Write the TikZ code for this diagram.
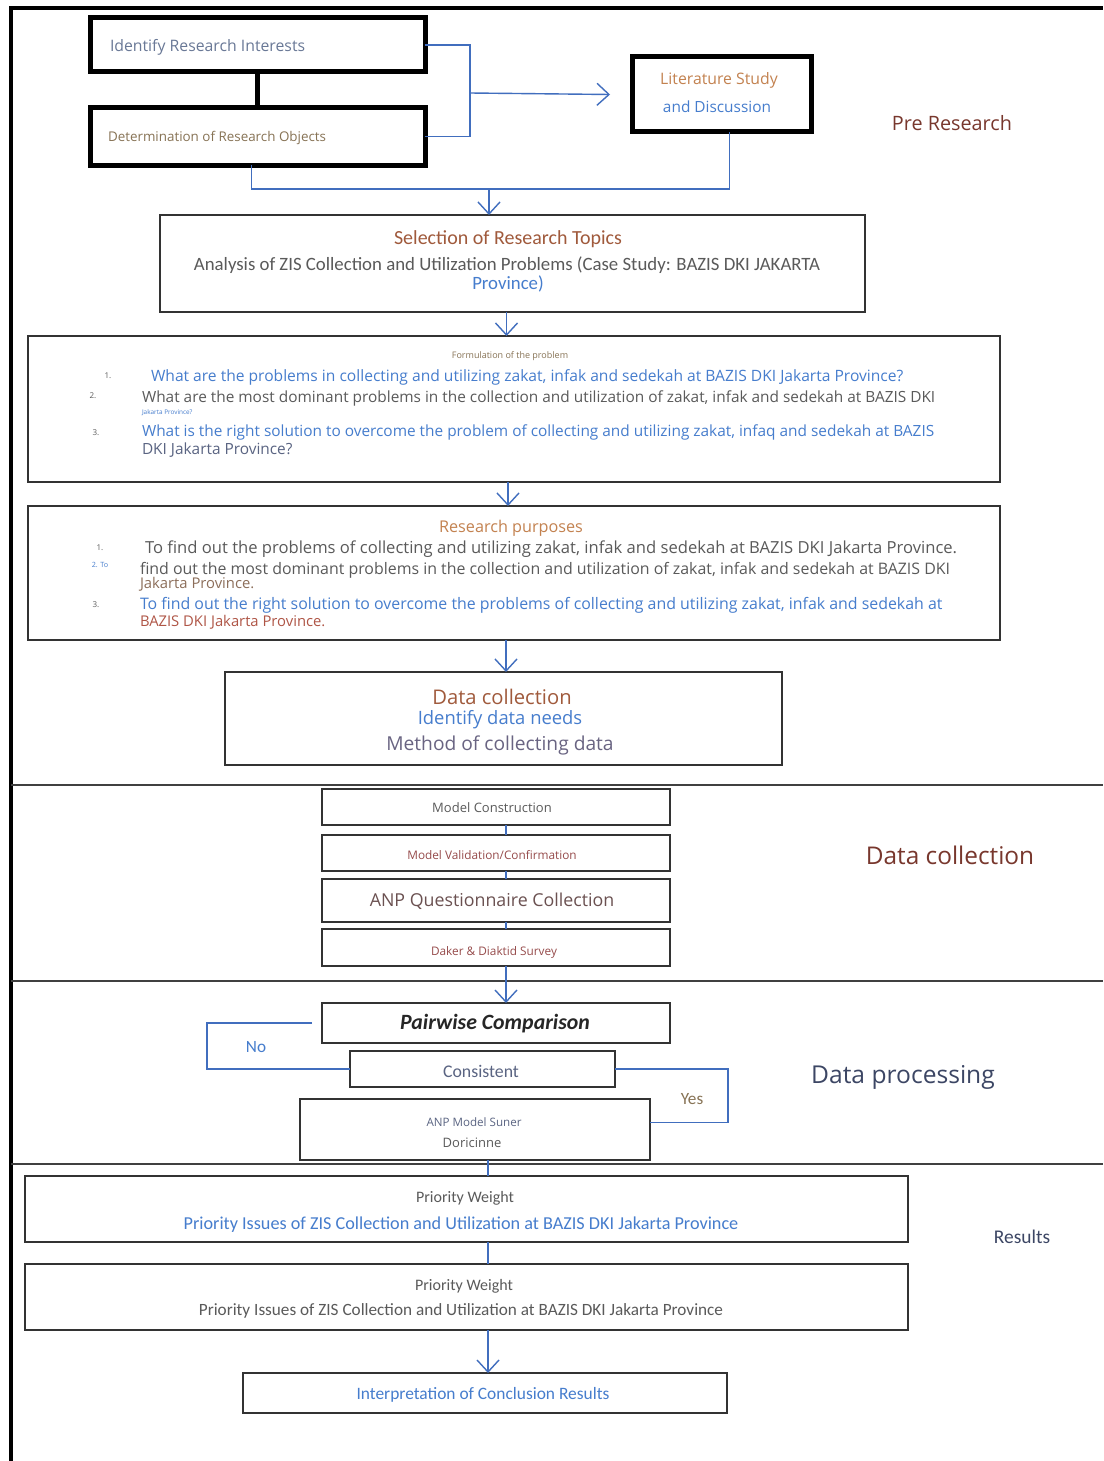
\documentclass[tikz,border=0pt]{standalone}
\usepackage{fontspec}
\setmainfont{Open Sans}
\newfontfamily\carl{Carlito}
\usetikzlibrary{arrows.meta,fit}
\definecolor{ctop}{RGB}{105,120,150}
\definecolor{colive}{RGB}{135,115,85}
\definecolor{corange}{RGB}{195,130,80}
\definecolor{cblue}{RGB}{70,125,205}
\definecolor{cbrown}{RGB}{160,90,60}
\definecolor{cdark}{RGB}{120,55,45}
\definecolor{cgray}{RGB}{90,90,90}
\definecolor{cgb}{RGB}{90,100,130}
\definecolor{cpurple}{RGB}{105,100,130}
\definecolor{cred}{RGB}{175,85,70}
\definecolor{cline}{RGB}{65,110,190}
\definecolor{cnavy}{RGB}{60,70,100}
\definecolor{cbr2}{RGB}{140,110,90}
\definecolor{cmr}{RGB}{150,75,75}
\newcommand\fsz[1]{\fontsize{#1}{#1}\selectfont}
\begin{document}
\begin{tikzpicture}[x=0.5pt,y=-0.5pt,
  fitbox/.style={inner sep=0pt,outer sep=0pt},
  thickbox/.style={fitbox,draw=black,line width=2.5pt},
  thinbox/.style={fitbox,draw=black!80,line width=0.8pt},
  txt/.style={inner sep=0pt,outer sep=0pt},
  conn/.style={draw=cline,line width=0.7pt},
  arr/.style={conn,-{Straight Barb[length=6pt,width=11pt,line width=0.7pt]}},
  sep/.style={draw=black!75,line width=1pt}]
\fill[white] (0,0) rectangle (1103,1461);
\useasboundingbox (0,0) rectangle (1103,1461);
% frame
\draw[line width=1.8pt] (11,1461) -- (11,8) -- (1103,8);
\draw[sep] (11,785) -- (1103,785);
\draw[sep] (11,981) -- (1103,981);
\draw[sep] (11,1164) -- (1103,1164);

% pre research
\node[thickbox,fit={(90,18)(425,72)}] (ri) {};
\node[thickbox,fit={(90,108)(425,165)}] (ro) {};
\node[thickbox,fit={(632,57)(811,132)}] (lit) {};
\node[txt,anchor=west,text=ctop,font=\fsz{7.9}] at (110,47) {Identify Research Interests};
\node[txt,anchor=west,text=colive,font=\fsz{6.7}] at (108,138) {Determination of Research Objects};
\node[txt,text=corange,font=\fsz{7.9}] at (719,80) {Literature Study};
\node[txt,text=cblue,font=\fsz{7.7}] at (717,107) {and Discussion};
\node[txt,text=cdark,font=\fsz{9.9}] (lpre) at (952,123) {Pre Research};
\draw[line width=2.5pt] (ri) -- (ro);
\draw[conn] (ri.east) -- ++(45,0) coordinate (bt) |- (ro.east);
\coordinate (jn) at (470,93);
\draw[arr] (jn) -- ([xshift=-11pt]lit.west);
\draw[conn] ([xshift=-3pt]ro.south) -- ++(0,24) -| ([xshift=4pt]lit.south);
\coordinate (jb) at (489,189);

\node[thinbox,fit={(160,215)(865,312)}] (sel) {};
\draw[arr] (jb) -- (jb |- sel.north);
\node[txt,text=cbrown,font=\carl\fsz{10}] at (508,239) {Selection of Research Topics};
\node[txt,text=cgray,font=\carl\fsz{9.4}] at (507,265) {Analysis of ZIS Collection and Utilization Problems (Case Study: BAZIS DKI JAKARTA};
\node[txt,text=cblue,font=\carl\fsz{9.4}] at (508,284) {Province)};

% problem
\node[thinbox,fit={(28,336)(1000,482)}] (prob) {};
\draw[arr] ([xshift=-3pt]sel.south) -- ([xshift=-3pt]sel.south |- prob.north);
\node[txt,text=colive,font=\fsz{4.5}] at (510,356) {Formulation of the problem};
\node[txt,text=cgray,font=\fsz{4}] at (108,376) {1.};
\node[txt,anchor=west,text=cblue,font=\fsz{7.8}] at (151,377) {What are the problems in collecting and utilizing zakat, infak and sedekah at BAZIS DKI Jakarta Province?};
\node[txt,text=cgray,font=\fsz{4}] at (93,396) {2.};
\node[txt,anchor=west,text=cgray,font=\fsz{7.7}] at (142,398) {What are the most dominant problems in the collection and utilization of zakat, infak and sedekah at BAZIS DKI};
\node[txt,anchor=west,text=cblue,font=\fsz{3.2}] at (142,413) {Jakarta Province?};
\node[txt,text=cgray,font=\fsz{4}] at (96,433) {3.};
\node[txt,anchor=west,text=cblue,font=\fsz{7.7}] at (142,432) {What is the right solution to overcome the problem of collecting and utilizing zakat, infaq and sedekah at BAZIS};
\node[txt,anchor=west,text=cgb,font=\fsz{7.7}] at (142,450) {DKI Jakarta Province?};

% purposes
\node[thinbox,fit={(28,506)(1000,640)}] (purp) {};
\draw[arr] ([xshift=-3pt]prob.south) -- ([xshift=-3pt]prob.south |- purp.north);
\node[txt,text=corange,font=\fsz{8.1}] at (511,528) {Research purposes};
\node[txt,text=cgray,font=\fsz{4}] at (100,548) {1.};
\node[txt,anchor=west,text=cgray,font=\fsz{8.3}] at (145,549) {To find out the problems of collecting and utilizing zakat, infak and sedekah at BAZIS DKI Jakarta Province.};
\node[txt,text=cblue,font=\fsz{3.6}] at (100,565) {2. To};
\node[txt,anchor=west,text=cgray,font=\fsz{7.95}] at (140,570) {find out the most dominant problems in the collection and utilization of zakat, infak and sedekah at BAZIS DKI};
\node[txt,anchor=west,text=cbr2,font=\fsz{7.4}] at (140,584) {Jakarta Province.};
\node[txt,text=cgray,font=\fsz{4}] at (96,605) {3.};
\node[txt,anchor=west,text=cblue,font=\fsz{7.95}] at (140,605) {To find out the right solution to overcome the problems of collecting and utilizing zakat, infak and sedekah at};
\node[txt,anchor=west,text=cred,font=\fsz{7.4}] at (140,622) {BAZIS DKI Jakarta Province.};

% data collection box
\node[thinbox,fit={(225,672)(782,765)}] (dc) {};
\draw[arr] ([xshift=-4pt]purp.south) -- ([xshift=-4pt]purp.south |- dc.north);
\node[txt,text=cbrown,font=\fsz{10.1}] at (502,697) {Data collection};
\node[txt,text=cblue,font=\fsz{9.2}] at (500,720) {Identify data needs};
\node[txt,text=cpurple,font=\fsz{9.6}] at (500,745) {Method of collecting data};

% data collection stage
\node[thinbox,fit={(322,789)(670,825)}] (m1) {};
\node[thinbox,fit={(322,835)(670,871)}] (m2) {};
\node[thinbox,fit={(322,879)(670,922)}] (m3) {};
\node[thinbox,fit={(322,929)(670,966)}] (m4) {};
\node[txt,text=cgray,font=\fsz{6.5}] at (492,808) {Model Construction};
\node[txt,text=cmr,font=\fsz{5.9}] at (492,855) {Model Validation/Confirmation};
\node[txt,text=cgray!90!red,font=\fsz{8.9}] at (492,901) {ANP Questionnaire Collection};
\node[txt,text=cmr,font=\fsz{5.9}] at (494,952) {Daker \& Diaktid Survey};
\node[txt,text=cdark,font=\fsz{12.2}] (ldc) at (950,855) {Data collection};
\coordinate (sx) at (506,0);
\draw[conn] (m1.south -| sx) -- (m2.north -| sx);
\draw[conn] (m2.south -| sx) -- (m3.north -| sx);
\draw[conn] (m3.south -| sx) -- (m4.north -| sx);

% data processing
\node[thinbox,fit={(322,1003)(670,1043)}] (pw) {};
\node[thinbox,fit={(350,1051)(615,1087)}] (cons) {};
\node[thinbox,fit={(300,1099)(650,1160)}] (anp) {};
\draw[arr] (m4.south -| sx) -- (pw.north -| sx);
\node[txt,text=black!85,font=\carl\bfseries\itshape\fsz{10.9}] at (495,1024) {Pairwise Comparison};
\node[txt,text=cgb,font=\carl\fsz{8.9}] at (481,1071) {Consistent};
\node[txt,text=cgb,font=\fsz{5.8}] at (474,1122) {ANP Model Suner};
\node[txt,text=cgray,font=\fsz{6.5}] at (472,1143) {Doricinne};
\draw[conn] ([xshift=-5pt]pw.west) -- ++(-105,0) |- (cons.west);
\node[txt,text=cblue,font=\carl\fsz{8.6}] at (256,1047) {No};
\draw[conn] (cons.east) -- ++(113,0) |- ([yshift=3.5pt]anp.east);
\node[txt,text=colive,font=\carl\fsz{8.6}] at (692,1099) {Yes};
\node[txt,text=cnavy,font=\fsz{12.3}] (ldp) at (903,1077) {Data processing};

% results
\node[thinbox,fit={(25,1176)(908,1242)}] (p1) {};
\node[thinbox,fit={(25,1264)(908,1330)}] (p2) {};
\node[thinbox,fit={(243,1373)(727,1413)}] (intp) {};
\coordinate (cx) at (488,0);
\draw[conn] (anp.south -| cx) -- (p1.north -| cx);
\draw[conn] (p1.south -| cx) -- (p2.north -| cx);
\draw[arr] (p2.south -| cx) -- (intp.north -| cx);
\node[txt,text=cgray,font=\carl\fsz{8}] at (465,1198) {Priority Weight};
\node[txt,text=cblue,font=\carl\fsz{9.1}] at (461,1225) {Priority Issues of ZIS Collection and Utilization at BAZIS DKI Jakarta Province};
\node[txt,text=cgray,font=\carl\fsz{8}] at (464,1286) {Priority Weight};
\node[txt,text=cgray,font=\carl\fsz{8.6}] at (461,1311) {Priority Issues of ZIS Collection and Utilization at BAZIS DKI Jakarta Province};
\node[txt,text=cblue,font=\carl\fsz{8.7}] at (483,1395) {Interpretation of Conclusion Results};
\node[txt,text=cnavy,font=\carl\fsz{9.7}] (lres) at (1022,1237) {Results};
\end{tikzpicture}
\end{document}
